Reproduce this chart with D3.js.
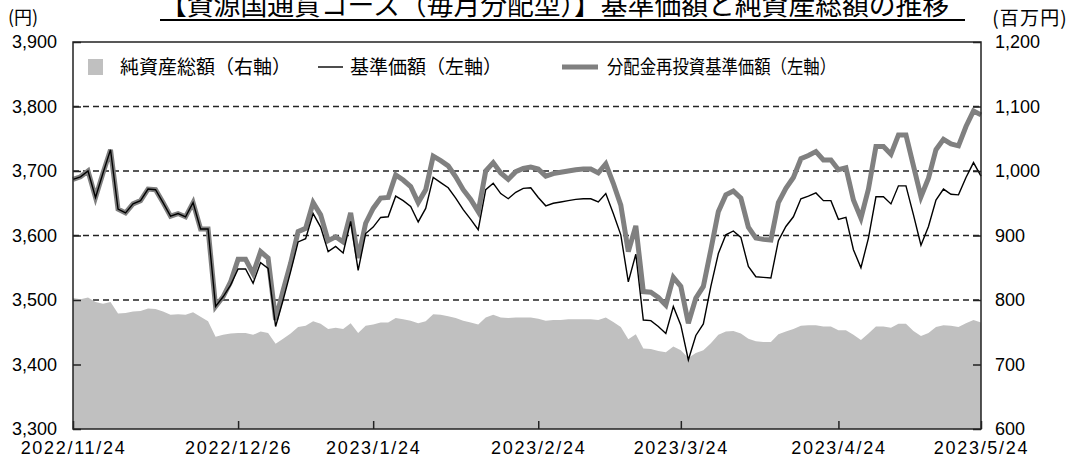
<!DOCTYPE html>
<html>
<meta charset="utf-8">
<style>
  body { margin: 0; background: #fff; }
  svg { width: 1071px; height: 461px; display: block; }
  text { fill: #000; }
</style>
<body>
  <svg></svg>
</body>
<script src="https://cdn.jsdelivr.net/npm/d3@7"></script>
<script>

  var width = 1071, height = 461;
  var plot = {left: 73, right: 981, top: 42, bottom: 429};

  // 基準価額 (円)
  var basePrice = [3687, 3691, 3700, 3659, 3697, 3733, 3641, 3635, 3649, 3654,
    3672, 3671, 3651, 3630, 3634, 3629, 3651, 3610, 3610, 3490,
    3505, 3523, 3548, 3548, 3526, 3558, 3549, 3459, 3500, 3544,
    3590, 3595, 3634, 3613, 3575, 3583, 3573, 3622, 3546, 3603,
    3613, 3628, 3629, 3661, 3654, 3645, 3621, 3642, 3690, 3682,
    3674, 3658, 3640, 3625, 3609, 3671, 3681, 3665, 3657, 3667,
    3673, 3674, 3659, 3646, 3650, 3652, 3654, 3656, 3657, 3657,
    3652, 3665, 3634, 3601, 3528, 3571, 3469, 3468, 3459, 3448,
    3490, 3461, 3407, 3445, 3463, 3521, 3572, 3601, 3607, 3597,
    3552, 3536, 3535, 3534, 3592, 3614, 3629, 3657, 3661, 3666,
    3654, 3654, 3625, 3628, 3578, 3550, 3596, 3660, 3660, 3649,
    3677, 3677, 3632, 3585, 3614, 3655, 3672, 3664, 3663, 3690,
    3713, 3692];

  // 分配金再投資基準価額 (円)
  var reinvested = [3687, 3691, 3700, 3659, 3697, 3733, 3641, 3635, 3649, 3654,
    3672, 3671, 3651, 3630, 3634, 3629, 3651, 3610, 3610, 3490,
    3505, 3528, 3563, 3563, 3541, 3575, 3565, 3469, 3515, 3557,
    3606, 3611, 3651, 3632, 3592, 3598, 3590, 3635, 3565, 3619,
    3642, 3658, 3659, 3694, 3686, 3676, 3651, 3671, 3723, 3716,
    3708, 3691, 3671, 3656, 3637, 3700, 3713, 3697, 3687, 3699,
    3704, 3706, 3703, 3692, 3696, 3698, 3700, 3702, 3703, 3703,
    3697, 3711, 3681, 3647, 3575, 3615, 3513, 3512, 3504, 3492,
    3535, 3521, 3464, 3503, 3521, 3578, 3637, 3663, 3669, 3658,
    3613, 3596, 3594, 3593, 3651, 3673, 3690, 3719, 3724, 3730,
    3717, 3717, 3702, 3705, 3655, 3627, 3672, 3738, 3738, 3726,
    3756, 3756, 3708, 3660, 3689, 3733, 3749, 3742, 3739, 3769,
    3793, 3787];

  // 純資産総額 (百万円)
  var netAssets = [803, 801, 804, 797, 794, 797, 779, 780, 782, 783,
    787, 786, 782, 777, 778, 777, 781, 774, 767, 743,
    746, 748, 749, 749, 746, 751, 749, 732, 740, 748,
    758, 760, 767, 763, 755, 757, 755, 764, 749, 760,
    762, 765, 765, 772, 770, 768, 764, 767, 778, 777,
    775, 772, 768, 765, 762, 773, 777, 773, 772, 773,
    773, 773, 771, 768, 769, 769, 770, 770, 770, 770,
    769, 773, 766, 758, 739, 747, 725, 724, 721, 719,
    728, 722, 710, 718, 722, 733, 746, 751, 752, 748,
    740, 736, 735, 735, 747, 751, 755, 760, 761, 761,
    759, 759, 753, 753, 746, 738, 748, 759, 759, 757,
    763, 763, 752, 744, 749, 758, 761, 760, 758, 764,
    769, 765];

  var tickLabels = ["2022/11/24", "2022/12/26", "2023/1/24", "2023/2/24", "2023/3/24", "2023/4/24", "2023/5/24"];
  var tickIndex = [0, 22, 40, 62, 81, 102, 121];
  var leftTicks = [3300, 3400, 3500, 3600, 3700, 3800, 3900];
  var rightTicks = [600, 700, 800, 900, 1000, 1100, 1200];

  var svg = d3.select("svg").attr("viewBox", "0 0 " + width + " " + height);

  var x = d3.scaleLinear().domain([0, basePrice.length - 1]).range([plot.left, plot.right]);
  var yL = d3.scaleLinear().domain([3300, 3900]).range([plot.bottom, plot.top]);
  var yR = d3.scaleLinear().domain([600, 1200]).range([plot.bottom, plot.top]);

  var jp = "'Noto Sans CJK JP', sans-serif";
  var num = "'Liberation Sans', Arial, sans-serif";

  // grid lines (behind the area)
  svg.append("g").selectAll("line")
    .data(leftTicks.slice(1, -1))
    .enter().append("line")
    .attr("x1", plot.left).attr("x2", plot.right)
    .attr("y1", function(d) { return yL(d); })
    .attr("y2", function(d) { return yL(d); })
    .attr("stroke", "#222").attr("stroke-width", 1.3)
    .attr("stroke-dasharray", "6,4");

  // net assets area
  var area = d3.area()
    .x(function(d, i) { return x(i); })
    .y0(plot.bottom)
    .y1(function(d) { return yR(d); });
  svg.append("path").datum(netAssets)
    .attr("d", area).attr("fill", "#c0c0c0");

  var line = d3.line().x(function(d, i) { return x(i); }).y(function(d) { return yL(d); });

  svg.append("path").datum(reinvested)
    .attr("d", line).attr("fill", "none")
    .attr("stroke", "#808080").attr("stroke-width", 5).attr("stroke-linejoin", "miter");

  svg.append("path").datum(basePrice)
    .attr("d", line).attr("fill", "none")
    .attr("stroke", "#000").attr("stroke-width", 1.4);

  // axes
  var leftAxis = svg.append("g").attr("transform", "translate(" + plot.left + ",0)")
    .call(d3.axisLeft(yL).tickValues(leftTicks).tickFormat(d3.format(",")).tickSize(-8).tickPadding(16));
  var rightAxis = svg.append("g").attr("transform", "translate(" + plot.right + ",0)")
    .call(d3.axisRight(yR).tickValues(rightTicks).tickFormat(d3.format(",")).tickSize(-8).tickPadding(14));
  [leftAxis, rightAxis].forEach(function(a) {
    a.select(".domain").remove();
    a.selectAll("line").attr("stroke", "#222").attr("stroke-width", 1.5);
    a.selectAll("text").attr("font-family", num).attr("font-size", 18).attr("fill", "#000");
  });

  var bottomAxis = svg.append("g").attr("transform", "translate(0," + plot.bottom + ")")
    .call(d3.axisBottom(x).tickValues(tickIndex).tickFormat(function(d, i) { return tickLabels[i]; })
      .tickSize(-8).tickPadding(12));
  bottomAxis.select(".domain").remove();
  bottomAxis.selectAll("line").attr("stroke", "#222").attr("stroke-width", 1.5);
  bottomAxis.selectAll("text").attr("font-family", num).attr("font-size", 18)
    .attr("letter-spacing", "1.7px").attr("fill", "#000");

  // plot frame
  svg.append("rect")
    .attr("x", plot.left).attr("y", plot.top)
    .attr("width", plot.right - plot.left).attr("height", plot.bottom - plot.top)
    .attr("fill", "none").attr("stroke", "#222").attr("stroke-width", 1.5);

  // legend
  var lg = svg.append("g").attr("font-family", jp).attr("font-size", 19);
  lg.append("rect").attr("x", 88).attr("y", 59).attr("width", 15).attr("height", 16).attr("fill", "#c0c0c0");
  lg.append("text").attr("x", 120).attr("y", 74).text("純資産総額（右軸）");
  lg.append("line").attr("x1", 318).attr("x2", 343).attr("y1", 67).attr("y2", 67)
    .attr("stroke", "#000").attr("stroke-width", 1.4);
  lg.append("text").attr("x", 350).attr("y", 74).text("基準価額（左軸）");
  lg.append("line").attr("x1", 562).attr("x2", 598).attr("y1", 67).attr("y2", 67)
    .attr("stroke", "#808080").attr("stroke-width", 5);
  lg.append("text").attr("x", 607).attr("y", 74)
    .attr("textLength", 229).attr("lengthAdjust", "spacingAndGlyphs")
    .text("分配金再投資基準価額（左軸）");

  // title and units
  svg.append("text").attr("x", 160).attr("y", 14.5)
    .attr("font-family", jp).attr("font-size", 26.8)
    .text("【資源国通貨コース（毎月分配型）】基準価額と純資産総額の推移");
  svg.append("line").attr("x1", 160).attr("x2", 965).attr("y1", 20).attr("y2", 20)
    .attr("stroke", "#000").attr("stroke-width", 2);

  svg.append("text").attr("x", 8).attr("y", 24)
    .attr("font-family", jp).attr("font-size", 18).text("(円)");
  svg.append("text").attr("x", 1068).attr("y", 25).attr("text-anchor", "end")
    .attr("font-family", jp).attr("font-size", 19).attr("letter-spacing", "1.2px").text("(百万円)");

</script>
</html>
